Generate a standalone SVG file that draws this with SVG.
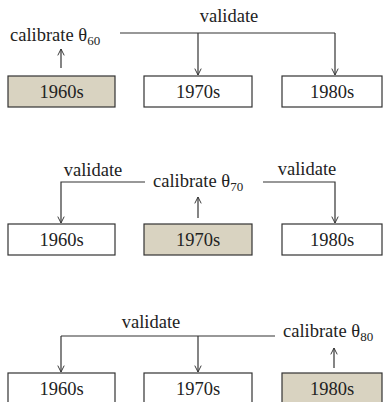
<svg xmlns="http://www.w3.org/2000/svg" width="384" height="402" viewBox="0 0 384 402">
<defs>
<marker id="ah" viewBox="0 0 10 10" refX="9" refY="5" markerWidth="8" markerHeight="8" orient="auto" markerUnits="userSpaceOnUse">
<path d="M1,1 L9,5 L1,9" fill="none" stroke="#333" stroke-width="1.2"/>
</marker>
</defs>
<style>
.box{fill:#fff;stroke:#333;stroke-width:1.2}
.cal{fill:#d9d3c1;stroke:#333;stroke-width:1.2}
text{font-family:'Liberation Serif','Times New Roman',serif;font-size:18.5px;fill:#222}
.c{text-anchor:middle}
.ln{fill:none;stroke:#333;stroke-width:1.2}
.ar{fill:none;stroke:#333;stroke-width:1.2;marker-end:url(#ah)}
</style>
<rect width="384" height="402" fill="#fff"/>
<g id="row1">
<g id="r1-1960"><rect class="cal" x="8" y="76" width="107" height="31"/><text class="c" x="61.5" y="98">1960s</text></g>
<g id="r1-1970"><rect class="box" x="144" y="76" width="108" height="31"/><text class="c" x="198" y="98">1970s</text></g>
<g id="r1-1980"><rect class="box" x="282" y="76" width="100" height="31"/><text class="c" x="332" y="98">1980s</text></g>
<g id="r1-cal"><text x="10" y="41">calibrate θ<tspan font-size="13" dy="4">60</tspan></text></g>
<g id="r1-val"><text class="c" x="229" y="22">validate</text></g>
</g>
<g id="row2">
<g id="r2-1960"><rect class="box" x="8" y="224" width="107" height="31"/><text class="c" x="61.5" y="246">1960s</text></g>
<g id="r2-1970"><rect class="cal" x="144" y="224" width="108" height="31"/><text class="c" x="198" y="246">1970s</text></g>
<g id="r2-1980"><rect class="box" x="282" y="224" width="100" height="31"/><text class="c" x="332" y="246">1980s</text></g>
<g id="r2-cal"><text x="153" y="187">calibrate θ<tspan font-size="13" dy="4">70</tspan></text></g>
<g id="r2-val1"><text class="c" x="93" y="176">validate</text></g>
<g id="r2-val2"><text class="c" x="307" y="175">validate</text></g>
</g>
<g id="row3">
<g id="r3-1960"><rect class="box" x="8" y="373" width="107" height="33"/><text class="c" x="61.5" y="395">1960s</text></g>
<g id="r3-1970"><rect class="box" x="144" y="373" width="108" height="33"/><text class="c" x="198" y="395">1970s</text></g>
<g id="r3-1980"><rect class="cal" x="282" y="373" width="100" height="33"/><text class="c" x="332" y="395">1980s</text></g>
<g id="r3-cal"><text x="283" y="337">calibrate θ<tspan font-size="13" dy="4">80</tspan></text></g>
<g id="r3-val"><text class="c" x="151" y="328">validate</text></g>
</g>
<g id="connectors">
<path class="ar" d="M61,68 V49"/>
<path class="ln" d="M120,33 H335"/>
<path class="ar" d="M198,33 V75"/>
<path class="ar" d="M335,33 V75"/>
<path class="ar" d="M198,218 V197"/>
<path class="ar" d="M145,182 H61 V223"/>
<path class="ar" d="M263,182 H335 V223"/>
<path class="ar" d="M334,368 V348"/>
<path class="ln" d="M275,336 H61"/>
<path class="ar" d="M61,336 V372"/>
<path class="ar" d="M198,336 V372"/>
</g>
</svg>
